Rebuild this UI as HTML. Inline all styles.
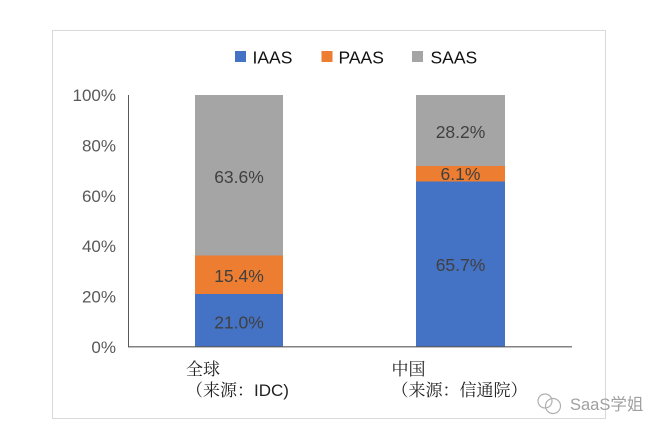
<!DOCTYPE html>
<html><head><meta charset="utf-8"><style>
html,body{margin:0;padding:0;background:#fff;}
svg{display:block;}
</style></head><body>
<svg width="660" height="434" viewBox="0 0 660 434" xmlns="http://www.w3.org/2000/svg">
<rect x="0" y="0" width="660" height="434" fill="#fff"/>
<rect x="52.5" y="30.5" width="553" height="388" fill="#fff" stroke="#d9d9d9" stroke-width="1"/>
<!-- legend -->
<g font-family="Liberation Sans, Arial, sans-serif" font-size="17.5" fill="#111">
<rect x="235" y="51" width="11" height="11" fill="#4472C4"/>
<text x="252.5" y="63.5">IAAS</text>
<rect x="321.5" y="51" width="11" height="11" fill="#ED7D31"/>
<text x="338.5" y="63.5">PAAS</text>
<rect x="412" y="51" width="11" height="11" fill="#A5A5A5"/>
<text x="430.5" y="63.5">SAAS</text>
</g>
<!-- y labels -->
<g font-family="Liberation Sans, Arial, sans-serif" font-size="17" fill="#595959" text-anchor="end">
<text x="116" y="353">0%</text>
<text x="116" y="302.6">20%</text>
<text x="116" y="252.2">40%</text>
<text x="116" y="201.8">60%</text>
<text x="116" y="151.4">80%</text>
<text x="116" y="101">100%</text>
</g>
<!-- bars -->
<rect x="195" y="294" width="88" height="53" fill="#4472C4"/>
<rect x="195" y="255.5" width="88" height="38.5" fill="#ED7D31"/>
<rect x="195" y="95" width="88" height="160.5" fill="#A5A5A5"/>
<rect x="416" y="181.5" width="89" height="165.5" fill="#4472C4"/>
<rect x="416" y="166" width="89" height="15.5" fill="#ED7D31"/>
<rect x="416" y="95" width="89" height="71" fill="#A5A5A5"/>
<!-- axes -->
<line x1="128.5" y1="95" x2="128.5" y2="347" stroke="#595959" stroke-width="1"/>
<line x1="128" y1="346.8" x2="572" y2="346.8" stroke="#595959" stroke-width="1.2"/>
<!-- data labels -->
<g font-family="Liberation Sans, Arial, sans-serif" font-size="17.5" fill="#404040" text-anchor="middle">
<text x="239" y="183">63.6%</text>
<text x="239" y="282">15.4%</text>
<text x="239" y="328.5">21.0%</text>
<text x="460.5" y="138">28.2%</text>
<text x="460.5" y="180">6.1%</text>
<text x="460.5" y="271">65.7%</text>
</g>
<!-- category labels -->
<g font-family="Liberation Sans, 'Noto Serif CJK SC', 'Noto Sans CJK SC', sans-serif" font-size="17" fill="#222">
<text x="186" y="375">全球</text>
<text x="186" y="396">（来源：IDC)</text>
<text x="391.5" y="375">中国</text>
<text x="391.5" y="396">（来源：信通院）</text>
</g>
<!-- watermark -->
<g fill="none" stroke="#b0b0b0" stroke-width="1.2">
<circle cx="545" cy="401" r="7"/>
<circle cx="553" cy="406" r="7.5"/>
</g>
<text x="570" y="410" font-family="Liberation Sans, 'Noto Sans CJK SC', sans-serif" font-size="16.5" fill="#a0a0a0">SaaS学姐</text>
</svg>
</body></html>
